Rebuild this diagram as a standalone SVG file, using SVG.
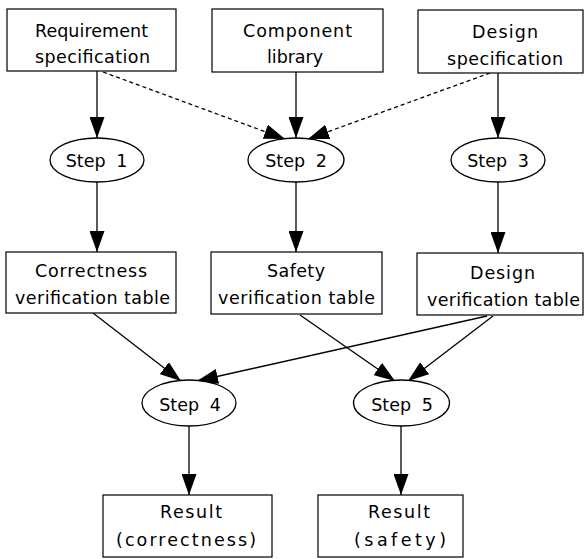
<svg xmlns="http://www.w3.org/2000/svg" width="585" height="559" viewBox="0 0 585 559">
<defs>
<style>
.box{fill:#fff;stroke:#000;stroke-width:1.2}
.ell{fill:#fff;stroke:#000;stroke-width:1.3}
.t{font-family:"DejaVu Sans","Liberation Sans",Arial,sans-serif;font-size:17.5px;fill:#000;text-anchor:middle}
.st{word-spacing:5px}
.e{stroke:#000;stroke-width:1.3;fill:none;marker-end:url(#ah)}
.d{stroke-dasharray:4,3}
</style>
<marker id="ah" markerUnits="userSpaceOnUse" markerWidth="21" markerHeight="15" refX="21" refY="7.5" orient="auto">
<path d="M0,0 L21,7.5 L0,15 z" fill="#000"/>
</marker>
</defs>
<rect width="585" height="559" fill="#fff"/>
<g id="connectors">
<line class="e" x1="97" y1="71" x2="97" y2="138"/>
<line class="e" x1="296" y1="72" x2="296" y2="138"/>
<line class="e" x1="498" y1="73" x2="498" y2="138"/>
<line class="e d" x1="103" y1="72" x2="285" y2="139"/>
<line class="e d" x1="490" y1="73" x2="308" y2="139"/>
<line class="e" x1="97" y1="182" x2="97" y2="252"/>
<line class="e" x1="296" y1="182" x2="296" y2="252"/>
<line class="e" x1="498" y1="182" x2="498" y2="253"/>
<line class="e" x1="93" y1="313" x2="181" y2="381"/>
<line class="e" x1="487" y1="316" x2="197" y2="381"/>
<line class="e" x1="300" y1="315" x2="395" y2="381"/>
<line class="e" x1="493" y1="316" x2="408" y2="381"/>
<line class="e" x1="189" y1="426" x2="189" y2="495"/>
<line class="e" x1="401" y1="426" x2="401" y2="495"/>
</g>
<g id="req">
<rect class="box" x="7" y="9" width="169" height="62"/>
<text class="t" x="91.5" y="37" textLength="113" lengthAdjust="spacing">Requirement</text>
<text class="t" x="92.5" y="63" textLength="115" lengthAdjust="spacing">specification</text>
</g>
<g id="comp">
<rect class="box" x="212" y="9" width="171" height="63"/>
<text class="t" x="297.5" y="37" textLength="109" lengthAdjust="spacing">Component</text>
<text class="t" x="295" y="63" textLength="56" lengthAdjust="spacing">library</text>
</g>
<g id="design">
<rect class="box" x="418" y="10" width="165" height="63"/>
<text class="t" x="505" y="38" textLength="66" lengthAdjust="spacing">Design</text>
<text class="t" x="505" y="65" textLength="116" lengthAdjust="spacing">specification</text>
</g>
<g id="step1">
<ellipse class="ell" cx="97" cy="160" rx="47" ry="22"/>
<text class="t st" x="96.5" y="167">Step 1</text>
</g>
<g id="step2">
<ellipse class="ell" cx="296" cy="160" rx="48" ry="22"/>
<text class="t st" x="296" y="167">Step 2</text>
</g>
<g id="step3">
<ellipse class="ell" cx="498" cy="160" rx="47" ry="22"/>
<text class="t st" x="498" y="167">Step 3</text>
</g>
<g id="corr">
<rect class="box" x="6" y="252" width="170" height="61"/>
<text class="t" x="91" y="277" textLength="112" lengthAdjust="spacing">Correctness</text>
<text class="t" x="92.5" y="304" textLength="155" lengthAdjust="spacing">verification table</text>
</g>
<g id="safety">
<rect class="box" x="211" y="252" width="171" height="62"/>
<text class="t" x="296" y="277" textLength="58" lengthAdjust="spacing">Safety</text>
<text class="t" x="296.5" y="304" textLength="157" lengthAdjust="spacing">verification table</text>
</g>
<g id="dvt">
<rect class="box" x="417" y="253" width="166" height="62"/>
<text class="t" x="502.5" y="279" textLength="65" lengthAdjust="spacing">Design</text>
<text class="t" x="503.5" y="306" textLength="153" lengthAdjust="spacing">verification table</text>
</g>
<g id="step4">
<ellipse class="ell" cx="189" cy="403" rx="47" ry="23"/>
<text class="t st" x="190" y="411">Step 4</text>
</g>
<g id="step5">
<ellipse class="ell" cx="401.5" cy="403" rx="48" ry="23"/>
<text class="t st" x="402" y="411">Step 5</text>
</g>
<g id="res1">
<rect class="box" x="103" y="495" width="169" height="62"/>
<text class="t" x="191" y="518" textLength="62" lengthAdjust="spacing">Result</text>
<text class="t" x="186" y="546" textLength="140" lengthAdjust="spacing">(correctness)</text>
</g>
<g id="res2">
<rect class="box" x="318" y="495" width="145" height="62"/>
<text class="t" x="399" y="518" textLength="62" lengthAdjust="spacing">Result</text>
<text class="t" x="400" y="546" textLength="92" lengthAdjust="spacing">(safety)</text>
</g>
</svg>
